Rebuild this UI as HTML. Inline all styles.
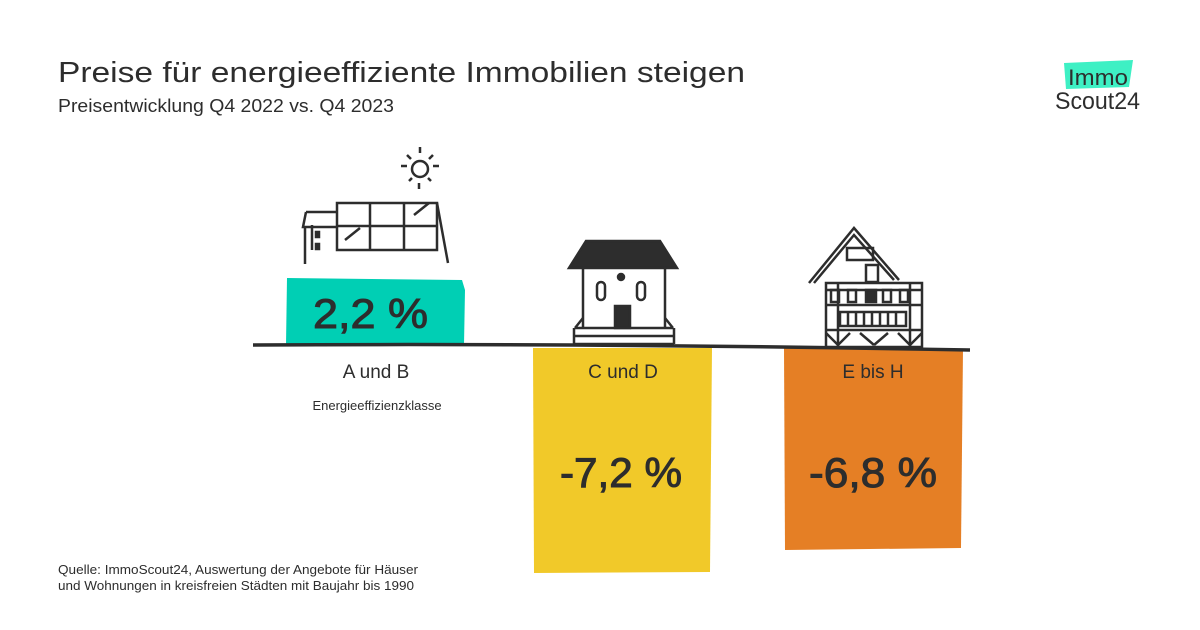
<!DOCTYPE html>
<html><head><meta charset="utf-8"><style>
body{margin:0;background:#fff}
svg{display:block}
text{font-family:"Liberation Sans",sans-serif;fill:#2d2d2d}
</style></head><body>
<svg width="1200" height="630" viewBox="0 0 1200 630" xmlns="http://www.w3.org/2000/svg">
<rect width="1200" height="630" fill="#fff"/>
<text x="58" y="82" font-size="29" textLength="687" lengthAdjust="spacingAndGlyphs">Preise für energieeffiziente Immobilien steigen</text>
<text x="58" y="112" font-size="18" fill="#444" textLength="336" lengthAdjust="spacingAndGlyphs">Preisentwicklung Q4 2022 vs. Q4 2023</text>
<!-- logo -->
<polygon points="1064,63 1133,60 1129,87 1066,89" fill="#3ef0c4"/>
<text x="1068" y="85" font-size="22" fill="#222" textLength="60" lengthAdjust="spacingAndGlyphs">Immo</text>
<text x="1055" y="109" font-size="24" fill="#222" textLength="85" lengthAdjust="spacingAndGlyphs">Scout24</text>
<!-- bars -->
<polygon points="287,278 462,280 465,290 464,345 286,345" fill="#00cfb4"/>
<polygon points="533,348 712,348 710,572 534,573" fill="#f1c929"/>
<polygon points="784,348 963,349 961,548 785,550" fill="#e57f25"/>
<path d="M253,345 Q600,343 970,350" stroke="#2d2d2d" stroke-width="3.5" fill="none"/>
<g stroke="#2d2d2d" stroke-width="1">
<text x="313" y="328" font-size="42" textLength="115" lengthAdjust="spacingAndGlyphs">2,2 %</text>
<text x="560" y="487" font-size="42" textLength="122" lengthAdjust="spacingAndGlyphs">-7,2 %</text>
<text x="809" y="487" font-size="42" textLength="128" lengthAdjust="spacingAndGlyphs">-6,8 %</text>
</g>
<text x="376" y="378" font-size="19" text-anchor="middle">A und B</text>
<text x="377" y="410" font-size="13" text-anchor="middle">Energieeffizienzklasse</text>
<text x="623" y="378" font-size="19" text-anchor="middle">C und D</text>
<text x="873" y="378" font-size="19" text-anchor="middle">E bis H</text>
<text x="58" y="574" font-size="13" textLength="360" lengthAdjust="spacingAndGlyphs">Quelle: ImmoScout24, Auswertung der Angebote für Häuser</text>
<text x="58" y="590" font-size="13" textLength="356" lengthAdjust="spacingAndGlyphs">und Wohnungen in kreisfreien Städten mit Baujahr bis 1990</text>
<!-- solar house -->
<g stroke="#2d2d2d" stroke-width="2.5" fill="none">
<circle cx="420" cy="169" r="8"/>
<path d="M420,147v6M407,155l4,4M433,155l-4,4M401,166h6M433,166h6M409,181l3,-3M431,181l-3,-3M419,189v-6"/>
<rect x="337" y="203" width="100" height="47"/>
<path d="M370,203v47M404,203v47M337,226h100M437,203l11,60M306,212h31M306,212l-3,15h34M305,227v37M312,225v25"/>
<path d="M345,240l15,-12M414,215l15,-12"/>
<rect x="316" y="232" width="3" height="5" fill="#2d2d2d"/><rect x="316" y="244" width="3" height="5" fill="#2d2d2d"/>
</g>
<!-- middle house -->
<g stroke="#2d2d2d" stroke-width="2.5" fill="none">
<polygon points="586,241 660,241 677,268 569,268" fill="#2d2d2d"/>
<path d="M583,268v60M665,268v60"/>
<rect x="597" y="282" width="8" height="18" rx="4"/>
<rect x="637" y="282" width="8" height="18" rx="4"/>
<circle cx="621" cy="277" r="3" fill="#2d2d2d"/>
<rect x="615" y="306" width="15" height="22" fill="#2d2d2d"/>
<path d="M575,328h98M574,336h100M574,344h100M574,328v16M674,328v16M583,318l-8,10M665,318l8,10"/>
</g>
<!-- timber house -->
<g stroke="#2d2d2d" stroke-width="2.5" fill="none">
<path d="M809,283l45,-55l45,52" />
<path d="M814,283l40,-48l40,45"/>
<rect x="826" y="283" width="96" height="64"/>
<rect x="847" y="248" width="26" height="12"/>
<rect x="866" y="265" width="12" height="17"/>
<path d="M826,290h96M826,305h96M826,330h96M838,283v64M910,283v64"/>
<rect x="831" y="290" width="8" height="12"/><rect x="848" y="290" width="8" height="12"/><rect x="883" y="290" width="8" height="12"/><rect x="900" y="290" width="8" height="12"/>
<rect x="866" y="290" width="10" height="12" fill="#2d2d2d"/>
<rect x="840" y="312" width="66" height="14"/>
<path d="M848,312v14M856,312v14M864,312v14M872,312v14M880,312v14M888,312v14M896,312v14"/>
<path d="M826,333l12,12M850,333l-12,12M860,333l14,12M888,333l-14,12M898,333l12,12M922,333l-12,12"/>
</g>
</svg>
</body></html>
